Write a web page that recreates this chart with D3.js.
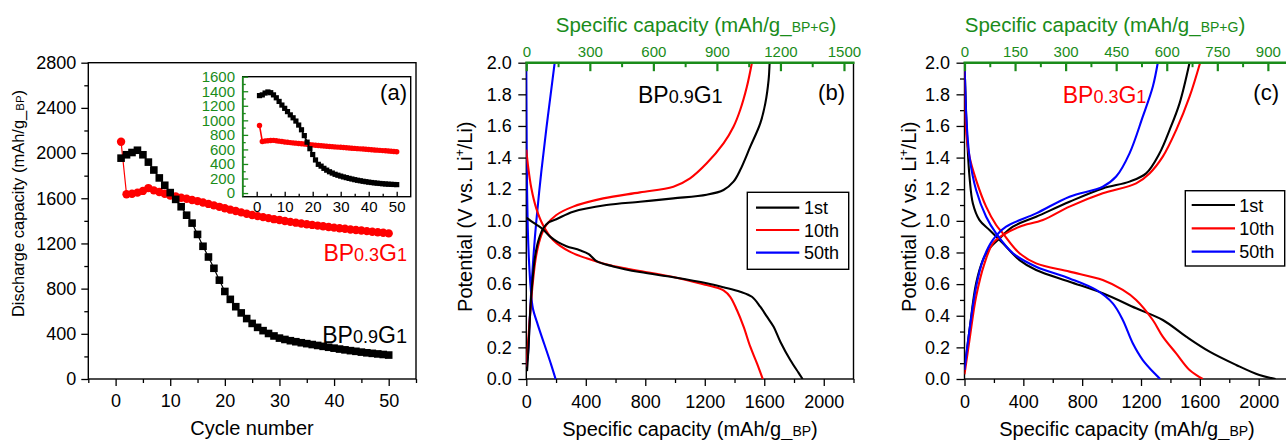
<!DOCTYPE html>
<html><head><meta charset="utf-8">
<script src="https://cdn.jsdelivr.net/npm/d3@7"></script>
<style>
body{margin:0;background:#fff;}
svg{display:block;font-family:"Liberation Sans",Arial,Helvetica,sans-serif;}
</style></head><body>
<svg id="chart" width="1286" height="440"></svg>
<script>
// ---------------- DATA ----------------
const cycleNo = [1,2,3,4,5,6,7,8,9,10,11,12,13,14,15,16,17,18,19,20,21,22,23,24,25,26,27,28,29,30,31,32,33,34,35,36,37,38,39,40,41,42,43,44,45,46,47,48,49,50];
// main panel (a): discharge capacity, mAh/g_BP
const capBP09 = [1955,1985,2005,2025,1985,1920,1850,1780,1715,1650,1590,1525,1450,1380,1280,1175,1080,980,875,775,
  705,640,585,535,492,457,428,403,381,362,350,339,330,321,313,305,297,289,281,273,265,258,251,245,238,232,227,222,217,212];
const capBP03 = [2100,1635,1640,1650,1665,1690,1670,1655,1640,1625,1615,1605,1595,1585,1575,1563,1550,1537,1524,1511,
  1499,1487,1475,1463,1452,1442,1433,1424,1415,1407,1399,1391,1384,1377,1370,1364,1358,1352,1346,1340,1335,1330,1324,1319,1314,1309,1304,1299,1294,1289];
// inset: capacity, mAh/g_BP+G
const insetBP09 = [1340,1350,1375,1390,1380,1350,1310,1260,1210,1165,1120,1075,1035,990,935,870,790,700,610,530,
  455,395,370,340,315,293,275,258,245,233,222,212,202,193,184,176,169,162,156,150,145,140,136,132,128,125,122,120,118,116];
const insetBP03 = [930,710,715,720,722,725,720,714,708,702,698,694,690,686,682,678,674,670,666,662,
  658,654,651,648,644,641,638,635,632,629,626,623,620,617,614,611,608,605,602,599,596,593,590,587,584,581,578,575,572,569];

// panel (b) BP0.9G1 voltage profiles [capacity mAh/g_BP, potential V]
const b1stDis = [[0,1.02],[30,1.0],[70,0.975],[112,0.946],[160,0.9],[213,0.865],[270,0.84],[360,0.814],[420,0.79],[472,0.745],[584,0.712],[764,0.676],[989,0.643],[1213,0.605],[1326,0.58],[1438,0.552],[1517,0.52],[1573,0.457],[1618,0.394],[1663,0.33],[1708,0.236],[1775,0.12],[1830,0.04],[1858,0]];
const b1stChg = [[5,0.05],[15,0.2],[25,0.4],[35,0.55],[45,0.66],[60,0.78],[80,0.87],[112,0.95],[150,0.99],[202,1.01],[315,1.058],[539,1.1],[764,1.121],[989,1.142],[1213,1.165],[1326,1.195],[1393,1.248],[1438,1.321],[1506,1.469],[1573,1.616],[1607,1.743],[1629,1.89],[1636,2.0]];
const b10Dis = [[0,1.45],[11,1.353],[34,1.206],[67,1.079],[112,0.974],[180,0.879],[292,0.805],[405,0.763],[517,0.731],[629,0.706],[764,0.683],[989,0.645],[1213,0.594],[1290,0.575],[1326,0.56],[1371,0.52],[1416,0.436],[1461,0.331],[1506,0.204],[1551,0.099],[1590,0]];
const b10Chg = [[0,0.078],[22,0.362],[40,0.573],[67,0.784],[101,0.91],[135,0.974],[202,1.037],[315,1.09],[517,1.142],[764,1.18],[989,1.216],[1101,1.269],[1213,1.364],[1326,1.49],[1393,1.595],[1438,1.701],[1483,1.848],[1517,2.0]];
const b50Dis = [[0,2.0],[2,1.6],[5,1.2],[10,0.95],[18,0.75],[30,0.57],[44,0.447],[78,0.341],[123,0.215],[168,0.088],[197,0]];
const b50Chg = [[0,0.08],[11,0.152],[22,0.36],[34,0.573],[50,0.8],[67,0.995],[101,1.311],[135,1.585],[169,1.838],[191,2.0]];

// panel (c) BP0.3G1 voltage profiles
const c1stDis = [[0,2.0],[5,1.85],[11,1.68],[22,1.45],[34,1.28],[57,1.11],[102,1.005],[170,0.942],[261,0.858],[374,0.752],[487,0.689],[714,0.615],[940,0.542],[1167,0.447],[1348,0.373],[1507,0.268],[1666,0.173],[1847,0.089],[2005,0.025],[2115,0]];
const c10Dis = [[0,1.95],[8,1.6],[34,1.405],[79,1.258],[147,1.09],[215,0.974],[261,0.921],[374,0.795],[487,0.731],[714,0.679],[940,0.626],[1076,0.563],[1167,0.5],[1280,0.373],[1348,0.268],[1439,0.162],[1530,0.057],[1620,0]];
const c50Dis = [[0,2.0],[5,1.85],[11,1.68],[34,1.405],[79,1.195],[147,1.026],[215,0.921],[329,0.795],[487,0.71],[714,0.636],[895,0.563],[1008,0.478],[1076,0.373],[1144,0.226],[1212,0.12],[1303,0.025],[1330,0]];
const c1stChg = [[0,0.057],[34,0.31],[79,0.605],[125,0.752],[170,0.826],[238,0.889],[329,0.963],[487,1.026],[714,1.121],[940,1.205],[1122,1.248],[1235,1.3],[1326,1.427],[1394,1.574],[1462,1.743],[1530,2.0]];
const c10Chg = [[0,0.03],[34,0.247],[79,0.521],[136,0.731],[193,0.858],[261,0.91],[374,0.963],[533,1.005],[714,1.09],[940,1.174],[1167,1.237],[1258,1.3],[1348,1.406],[1439,1.574],[1530,1.785],[1602,2.0]];
const c50Chg = [[0,0.057],[34,0.31],[79,0.584],[125,0.752],[193,0.879],[283,0.963],[487,1.047],[714,1.153],[940,1.216],[1031,1.28],[1122,1.427],[1212,1.659],[1280,1.848],[1314,2.0]];

// tick labels
const aXTicks = [0,10,20,30,40,50];
const aYTicks = [0,400,800,1200,1600,2000,2400,2800];
const insetYTicks = [0,200,400,600,800,1000,1200,1400,1600];
const insetXTicks = [0,10,20,30,40,50];
const vTicks = [0,0.2,0.4,0.6,0.8,1.0,1.2,1.4,1.6,1.8,2.0];
const capTicks = [0,400,800,1200,1600,2000];
const bTopTicks = [0,300,600,900,1200,1500];
const cTopTicks = [0,150,300,450,600,750,900];
const legendLabels = ["1st","10th","50th"];

// ---------------- STYLE ----------------
const BLACK="#000", RED="#ff0000", BLUE="#0000ff", GREEN="#1a8c1a";
const FONT_TICK=18;
const fmtInt = d3.format("d"), fmtV = d3.format(".1f");
const svg = d3.select("#chart");

function styleAxis(g, color, size, sw){
  g.attr("font-size",null).attr("font-family",null);
  g.select(".domain").remove();
  g.selectAll(".tick line").attr("stroke",color).attr("stroke-width",sw||1.3);
  g.selectAll(".tick text").attr("fill",color).style("font-size",size+"px");
}
function minorAxis(gen, vals, size){ return gen.tickValues(vals).tickSize(size).tickFormat(""); }
function rich(parent, x, y, parts, opt){
  opt = opt||{};
  const t = parent.append("text").attr("x",x).attr("y",y)
    .attr("text-anchor",opt.anchor||"start").attr("fill",opt.fill||BLACK);
  if(opt.rotate) t.attr("transform",`rotate(-90,${x},${y})`);
  parts.forEach(p=>{
    const s=t.append("tspan").text(p[0]).style("font-size",p[1]+"px");
    if(p[2]) s.attr("dy",p[2]);
  });
  return t;
}
function frame(x0,x1,y0,y1,fill){
  svg.append("rect").attr("x",x0).attr("y",y1).attr("width",x1-x0).attr("height",y0-y1)
    .attr("fill",fill||"none").attr("stroke",BLACK).attr("stroke-width",1.4);
}
function ticksBetween(a,b,step){ const r=[]; for(let v=a; v<=b+1e-9; v+=step) r.push(+v.toFixed(6)); return r; }

// ================= PANEL (a) =================
const xa = d3.scaleLinear().domain([-5,55]).range([88.3,416]);
const ya = d3.scaleLinear().domain([0,2800]).range([379,62.7]);
frame(88.3,416,379,62.7);

let g = svg.append("g").attr("transform","translate(0,379)");
g.call(minorAxis(d3.axisBottom(xa), ticksBetween(-5,55,10), 4)); styleAxis(g,BLACK,FONT_TICK);
g = svg.append("g").attr("transform","translate(0,379)");
g.call(d3.axisBottom(xa).tickValues(aXTicks).tickSize(7).tickPadding(8.5).tickFormat(fmtInt)); styleAxis(g,BLACK,FONT_TICK);
g = svg.append("g").attr("transform","translate(88.3,0)");
g.call(minorAxis(d3.axisLeft(ya), ticksBetween(200,2600,400), 4)); styleAxis(g,BLACK,FONT_TICK);
g = svg.append("g").attr("transform","translate(88.3,0)");
g.call(d3.axisLeft(ya).tickValues(aYTicks).tickSize(7).tickPadding(5).tickFormat(fmtInt)); styleAxis(g,BLACK,FONT_TICK);

const lineA = d3.line().x((d,i)=>xa(cycleNo[i])).y(d=>ya(d));
svg.append("path").attr("d",lineA(capBP03)).attr("fill","none").attr("stroke",RED).attr("stroke-width",1.2);
svg.append("g").selectAll("circle").data(capBP03).join("circle")
  .attr("cx",(d,i)=>xa(cycleNo[i])).attr("cy",d=>ya(d)).attr("r",4.2).attr("fill",RED);
svg.append("path").attr("d",lineA(capBP09)).attr("fill","none").attr("stroke",BLACK).attr("stroke-width",1.2);
svg.append("g").selectAll("rect").data(capBP09).join("rect")
  .attr("x",(d,i)=>xa(cycleNo[i])-3.8).attr("y",d=>ya(d)-3.8).attr("width",7.6).attr("height",7.6).attr("fill",BLACK);

rich(svg, 407, 261, [["BP",23],["0.3",18],["G",23],["1",18]], {anchor:"end",fill:RED});
rich(svg, 407, 343, [["BP",23],["0.9",18],["G",23],["1",20]], {anchor:"end"});

// axis titles (a)
rich(svg, 24, 203.5, [["Discharge capacity (mAh/g_",16.5],["BP",11.5],[")",16.5]], {anchor:"middle",rotate:true});
rich(svg, 252, 435, [["Cycle number",20]], {anchor:"middle"});

// ---- inset ----
const xi = d3.scaleLinear().domain([-5,55]).range([242.7,410.7]);
const yi = d3.scaleLinear().domain([-50,1600]).range([196.7,76.7]);
frame(242.7,410.7,196.7,76.7,"#fff");
g = svg.append("g").attr("transform","translate(0,196.7)");
g.call(minorAxis(d3.axisBottom(xi), ticksBetween(5,45,10), -3)); styleAxis(g,BLACK,15);
g = svg.append("g").attr("transform","translate(0,196.7)");
g.call(d3.axisBottom(xi).tickValues(insetXTicks).tickSize(-5).tickPadding(4.6).tickFormat(fmtInt)); styleAxis(g,BLACK,15);
g = svg.append("g").attr("transform","translate(242.7,0)");
g.call(minorAxis(d3.axisLeft(yi), ticksBetween(100,1500,200), -3)); styleAxis(g,GREEN,15);
g = svg.append("g").attr("transform","translate(242.7,0)");
g.call(d3.axisLeft(yi).tickValues(insetYTicks).tickSize(-5.5).tickPadding(7.7).tickFormat(fmtInt)); styleAxis(g,GREEN,15);
svg.append("line").attr("x1",242.7).attr("x2",242.7).attr("y1",76.7).attr("y2",196.7).attr("stroke",GREEN).attr("stroke-width",1.6);

const lineI = d3.line().x((d,i)=>xi(cycleNo[i])).y(d=>yi(d));
svg.append("path").attr("d",lineI(insetBP03)).attr("fill","none").attr("stroke",RED).attr("stroke-width",1.6);
svg.append("g").selectAll("circle").data(insetBP03).join("circle")
  .attr("cx",(d,i)=>xi(cycleNo[i])).attr("cy",d=>yi(d)).attr("r",2.7).attr("fill",RED);
svg.append("path").attr("d",lineI(insetBP09)).attr("fill","none").attr("stroke",BLACK).attr("stroke-width",1.6);
svg.append("g").selectAll("rect").data(insetBP09).join("rect")
  .attr("x",(d,i)=>xi(cycleNo[i])-2.6).attr("y",d=>yi(d)-2.6).attr("width",5.2).attr("height",5.2).attr("fill",BLACK);

rich(svg, 407, 100, [["(a)",22]], {anchor:"end"});

// ================= PANELS (b),(c) =================
function voltagePanel(opt){
  const x = d3.scaleLinear().domain([0,2200]).range([opt.x0,opt.x1]);
  const xt = d3.scaleLinear().domain([0,opt.topMax]).range([opt.x0,opt.x1]);
  const y = d3.scaleLinear().domain([0,2.0]).range([379,62.7]);
  const clipId = "clip"+opt.name;
  svg.append("clipPath").attr("id",clipId).append("rect")
    .attr("x",opt.x0).attr("y",62.7).attr("width",opt.x1-opt.x0).attr("height",379-62.7);
  frame(opt.x0,opt.x1,379,62.7);

  let g = svg.append("g").attr("transform","translate(0,379)");
  g.call(minorAxis(d3.axisBottom(x), ticksBetween(200,2200,400), 4)); styleAxis(g,BLACK,FONT_TICK);
  g = svg.append("g").attr("transform","translate(0,379)");
  g.call(d3.axisBottom(x).tickValues(capTicks).tickSize(7).tickPadding(9).tickFormat(fmtInt)); styleAxis(g,BLACK,FONT_TICK);
  g = svg.append("g").attr("transform",`translate(${opt.x0},0)`);
  g.call(minorAxis(d3.axisLeft(y), ticksBetween(0.1,1.9,0.2), 4.5)); styleAxis(g,BLACK,FONT_TICK);
  g = svg.append("g").attr("transform",`translate(${opt.x0},0)`);
  g.call(d3.axisLeft(y).tickValues(vTicks).tickSize(8).tickPadding(6.5).tickFormat(fmtV)); styleAxis(g,BLACK,FONT_TICK);

  const lineV = d3.line().x(d=>x(d[0])).y(d=>y(d[1])).curve(d3.curveCatmullRom.alpha(0.5));
  const pg = svg.append("g").attr("clip-path",`url(#${clipId})`);
  opt.curves.forEach(c=>{
    pg.append("path").attr("d",lineV(c.data)).attr("fill","none").attr("stroke",c.color).attr("stroke-width",2.1);
  });

  // top green axis
  g = svg.append("g").attr("transform","translate(0,62.7)");
  g.call(minorAxis(d3.axisTop(xt), opt.topMinor, -4.5)); styleAxis(g,GREEN,15,2);
  g = svg.append("g").attr("transform","translate(0,62.7)");
  g.call(d3.axisTop(xt).tickValues(opt.topTicks).tickSize(-8.5).tickPadding(5.6).tickFormat(fmtInt)); styleAxis(g,GREEN,15,2.2);
  svg.append("line").attr("x1",opt.x0-1).attr("x2",opt.x1+1).attr("y1",62.7).attr("y2",62.7).attr("stroke",GREEN).attr("stroke-width",2.6);

  // titles
  rich(svg, opt.topTitleX, 31.5, [["Specific capacity (mAh/g_",20.5],["BP+G",14],[")",20.5]], {anchor:"middle",fill:GREEN});
  rich(svg, opt.botTitleX, 436, [["Specific capacity (mAh/g_",20],["BP",14],[")",20]], {anchor:"middle"});
  rich(svg, opt.yTitleX, 216.7, [["Potential (V vs. Li",20],["+",12,-8],["/Li)",20,8]], {anchor:"middle",rotate:true});

  // legend
  const L = opt.legend;
  svg.append("rect").attr("x",L.x0).attr("y",L.y0).attr("width",L.x1-L.x0).attr("height",L.y1-L.y0)
    .attr("fill","#fff").attr("stroke",BLACK).attr("stroke-width",1.4);
  legendLabels.forEach((lab,i)=>{
    const yy = L.ys[i];
    svg.append("line").attr("x1",L.lx0).attr("x2",L.lx1).attr("y1",yy).attr("y2",yy)
      .attr("stroke",[BLACK,RED,BLUE][i]).attr("stroke-width",2.2);
    rich(svg, L.tx, yy+6.5, [[lab,18]]);
  });
  rich(svg, opt.tagX, 100, [[opt.tag,22]], {anchor:"end"});
  rich(svg, opt.nameX, 103, opt.nameParts, {fill:opt.nameColor});
}

voltagePanel({
  name:"b", x0:526.3, x1:853.5, topMax:1545,
  topTicks:bTopTicks, topMinor:ticksBetween(150,1350,300),
  curves:[
    {data:b50Dis,color:BLUE},{data:b50Chg,color:BLUE},
    {data:b10Dis,color:RED},{data:b10Chg,color:RED},
    {data:b1stDis,color:BLACK},{data:b1stChg,color:BLACK}
  ],
  topTitleX:696, botTitleX:690, yTitleX:472.5,
  legend:{x0:747.3,x1:848.7,y0:192.3,y1:269.3,ys:[207.7,230,252.7],lx0:756,lx1:799.3,tx:804},
  tag:"(b)", tagX:845, nameX:638, nameColor:BLACK,
  nameParts:[["BP",23],["0.9",18],["G",23],["1",20]]
});
voltagePanel({
  name:"c", x0:964.5, x1:1288.1, topMax:960,
  topTicks:cTopTicks, topMinor:ticksBetween(75,825,150),
  curves:[
    {data:c1stDis,color:BLACK},{data:c1stChg,color:BLACK},
    {data:c10Dis,color:RED},{data:c10Chg,color:RED},
    {data:c50Dis,color:BLUE},{data:c50Chg,color:BLUE}
  ],
  topTitleX:1105, botTitleX:1127, yTitleX:916,
  legend:{x0:1185.3,x1:1284.7,y0:190.7,y1:266,ys:[205,228.3,251.7],lx0:1191.7,lx1:1235,tx:1239.3},
  tag:"(c)", tagX:1279, nameX:1062.7, nameColor:RED,
  nameParts:[["BP",23],["0.3",18],["G",23],["1",18]]
});
</script>
</body></html>
